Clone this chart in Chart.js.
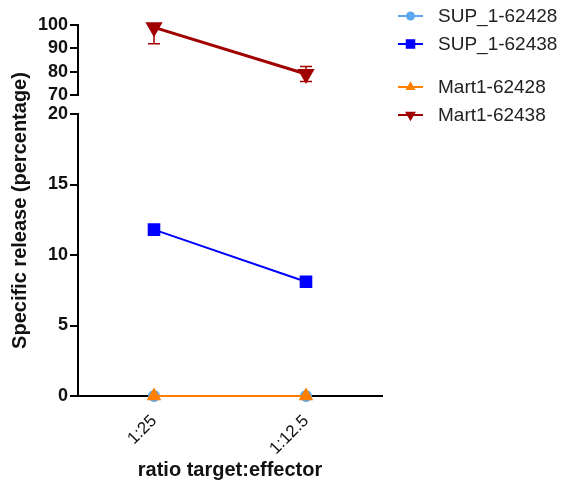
<!DOCTYPE html>
<html>
<head>
<meta charset="utf-8">
<title>Specific release</title>
<script src="https://cdn.jsdelivr.net/npm/chart.js@4/dist/chart.umd.min.js"></script>
<style>
  html, body { margin: 0; padding: 0; background: #fff; }
</style>
</head>
<body>
<canvas id="releaseChart" width="565" height="488"></canvas>
<script>
// effector ratios on the x axis
const ratios = ['1:25', '1:12.5'];

// specific release (%) per target / effector line
const sup28 = [0, 0];
const sup38 = [11.8, 8.1];
const mart28 = [0, 0];
const mart38 = [99, 79];
const mart38Err = [7, 3.2];

// the two pieces of the broken y axis
const lowTicks = [0, 5, 10, 15, 20];
const highTicks = [70, 80, 90, 100];

const FONT = 'Arial, "Liberation Sans", sans-serif';
Chart.defaults.font.family = FONT;
Chart.defaults.color = '#111';

// mean +/- SD whiskers, cut off at the ends of the scale
const errorBars = {
    id: 'errorBars',
    beforeDatasetsDraw(chart) {
        const ctx = chart.ctx;
        chart.data.datasets.forEach((ds, i) => {
            if (!ds.errors) return;
            const meta = chart.getDatasetMeta(i);
            const yScale = chart.scales[ds.yAxisID];
            ctx.save();
            ctx.strokeStyle = ds.borderColor;
            ctx.lineWidth = 1.5;
            meta.data.forEach((pt, j) => {
                const v = ds.data[j], e = ds.errors[j];
                const hi = Math.min(v + e, yScale.max);
                const lo = Math.max(v - e, yScale.min);
                const yHi = yScale.getPixelForValue(hi);
                const yLo = yScale.getPixelForValue(lo);
                ctx.beginPath();
                ctx.moveTo(pt.x, yHi);
                ctx.lineTo(pt.x, yLo);
                if (v + e <= yScale.max) {
                    ctx.moveTo(pt.x - 6, yHi);
                    ctx.lineTo(pt.x + 6, yHi);
                }
                if (v - e >= yScale.min) {
                    ctx.moveTo(pt.x - 6, yLo);
                    ctx.lineTo(pt.x + 6, yLo);
                }
                ctx.stroke();
            });
            ctx.restore();
        });
    }
};

// one y title spanning both axis pieces
const yTitle = {
    id: 'yTitle',
    afterDraw(chart) {
        const ctx = chart.ctx;
        const area = chart.chartArea;
        ctx.save();
        ctx.translate(20, (area.top + area.bottom) / 2);
        ctx.rotate(-Math.PI / 2);
        ctx.font = 'bold 20px ' + FONT;
        ctx.fillStyle = '#111';
        ctx.textAlign = 'center';
        ctx.textBaseline = 'middle';
        ctx.fillText('Specific release (percentage)', 0, 0);
        ctx.restore();
    }
};

// legend with line + marker samples, two groups of two
const sideLegend = {
    id: 'sideLegend',
    afterDraw(chart) {
        const ctx = chart.ctx;
        chart.data.datasets.forEach((ds, i) => {
            const y = 16 + i * 28 + (i >= 2 ? 15 : 0);
            ctx.save();
            ctx.strokeStyle = ds.borderColor;
            ctx.fillStyle = ds.borderColor;
            ctx.lineWidth = 2;
            ctx.beginPath();
            ctx.moveTo(398, y);
            ctx.lineTo(423, y);
            ctx.stroke();
            Chart.helpers.drawPoint(ctx, {
                pointStyle: ds.pointStyle,
                radius: ds.pointRadius * 0.9,
                rotation: ds.pointRotation || 0,
                borderWidth: 0
            }, 410.5, y);
            ctx.font = '19px ' + FONT;
            ctx.fillStyle = '#222';
            ctx.textAlign = 'left';
            ctx.textBaseline = 'middle';
            ctx.fillText(ds.label, 438, y + 1);
            ctx.restore();
        });
    }
};

const yTickFont = { size: 18, weight: 'bold' };

const yCommon = {
    position: 'left',
    stack: 'left',
    grid: { display: true, drawOnChartArea: false, tickLength: 8, color: '#000', lineWidth: 2 },
    border: { display: true, color: '#000', width: 2 },
    afterFit(scale) { scale.width = 50; }
};

new Chart(document.getElementById('releaseChart'), {
    type: 'line',
    data: {
        labels: ratios,
        datasets: [
            {
                label: 'SUP_1-62428', data: sup28, yAxisID: 'y',
                borderColor: '#5ea8ee', backgroundColor: '#5ea8ee',
                pointStyle: 'circle', pointRadius: 5, borderWidth: 2, order: 2
            },
            {
                label: 'SUP_1-62438', data: sup38, yAxisID: 'y',
                borderColor: '#0000ff', backgroundColor: '#0000ff',
                pointStyle: 'rect', pointRadius: 7.5, borderWidth: 2, order: 1
            },
            {
                label: 'Mart1-62428', data: mart28, yAxisID: 'y',
                borderColor: '#ff8000', backgroundColor: '#ff8000',
                pointStyle: 'triangle', pointRadius: 6.5, borderWidth: 2, order: 0
            },
            {
                label: 'Mart1-62438', data: mart38, yAxisID: 'yTop', errors: mart38Err,
                borderColor: '#a00000', backgroundColor: '#a00000',
                pointStyle: 'triangle', pointRotation: 180, pointRadius: 7, borderWidth: 3, order: 1
            }
        ]
    },
    options: {
        responsive: false,
        animation: false,
        clip: false,
        layout: { padding: { left: 28, right: 183, top: 25, bottom: 0 } },
        elements: {
            line: { tension: 0 },
            point: { borderWidth: 0, hoverRadius: 0 }
        },
        plugins: {
            legend: { display: false },
            tooltip: { enabled: false }
        },
        scales: {
            x: {
                offset: true,
                grid: { display: true, drawOnChartArea: false, tickLength: 5, color: '#000', lineWidth: 1 },
                border: { display: true, color: '#000', width: 2 },
                ticks: { minRotation: 45, maxRotation: 45, padding: 10, color: '#111', font: { size: 17 } },
                title: {
                    display: true, text: 'ratio target:effector', color: '#111',
                    font: { size: 20, weight: 'bold' }, padding: { top: 0, bottom: 6 }
                },
                afterFit(scale) { scale.height = 92; }
            },
            y: Object.assign({}, yCommon, {
                weight: 1,
                stackWeight: 282,
                min: lowTicks[0],
                max: lowTicks[lowTicks.length - 1],
                ticks: { stepSize: lowTicks[1] - lowTicks[0], autoSkip: false, padding: 2, color: '#111', font: yTickFont }
            }),
            yGap: {
                position: 'left',
                stack: 'left',
                weight: 2,
                stackWeight: 19,
                ticks: { display: false },
                grid: { display: false },
                border: { display: false },
                afterFit(scale) { scale.width = 50; }
            },
            yTop: Object.assign({}, yCommon, {
                weight: 3,
                stackWeight: 70,
                min: highTicks[0],
                max: highTicks[highTicks.length - 1],
                ticks: { stepSize: highTicks[1] - highTicks[0], autoSkip: false, padding: 2, color: '#111', font: yTickFont }
            })
        }
    },
    plugins: [errorBars, yTitle, sideLegend]
});
</script>
</body>
</html>
